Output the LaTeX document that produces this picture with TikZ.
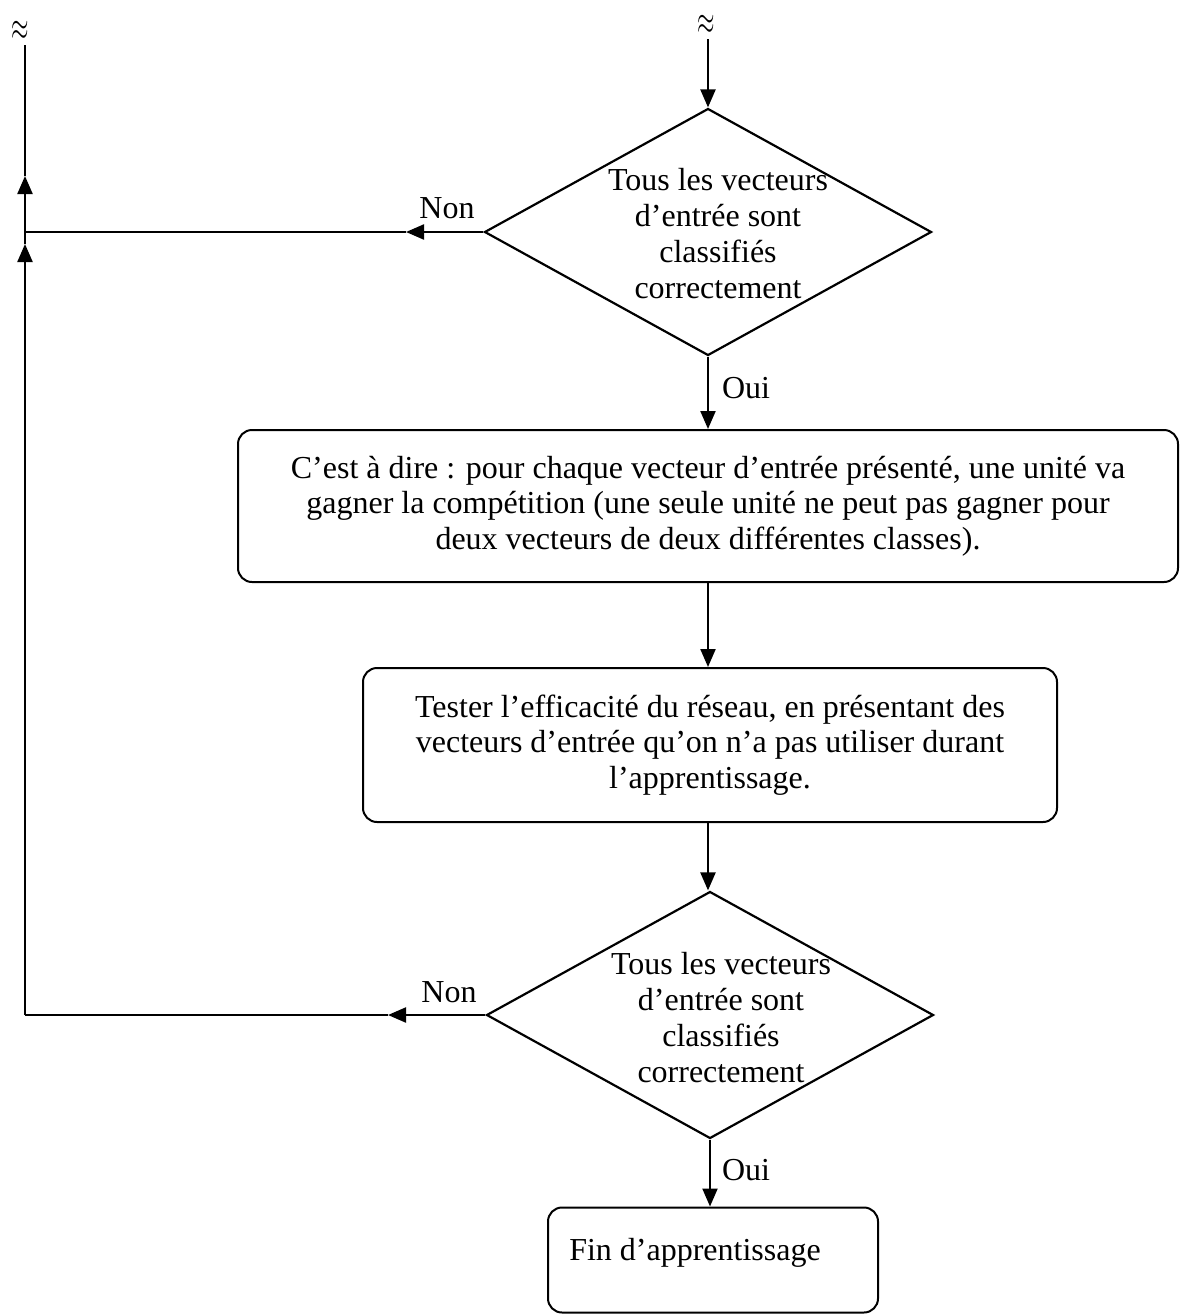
\documentclass[tikz,border=0pt]{standalone}
\usepackage{fontspec}
\setmainfont{Liberation Serif}
\usetikzlibrary{arrows.meta,shapes.geometric}
\begin{document}
\begin{tikzpicture}[x=1pt,y=-1pt,
  line width=2.2pt,
  tip/.style={-{Triangle[length=18pt,width=15pt]}},
  decision/.style={draw,diamond,minimum width=447pt,minimum height=247pt,inner sep=0pt,line width=2.2pt},
  procbox/.style={draw,rounded corners=14pt,line width=2pt,inner sep=0pt,align=center,font=\fontsize{32}{35.5}\selectfont},
  txt/.style={font=\fontsize{32}{36}\selectfont,align=center,inner sep=0pt},
  brk/.style={inner sep=0pt,font=\fontsize{26}{26}\selectfont},
]
\useasboundingbox (0,0) rectangle (1186,1315);

% break marks
\node[brk] (brk1) at (20,31) {\scalebox{0.9}[1.6]{$\approx$}};
\node[brk] (brk2) at (706,25) {\scalebox{0.9}[1.6]{$\approx$}};
\coordinate (top1) at (25,45);
\coordinate (top2) at (708,39);

% decisions
\node[decision] (d1) at (708,232) {};
\node[txt] (t1) at (718,234) {Tous les vecteurs\\d’entrée sont\\classifiés\\correctement};
\node[decision] (d2) at (710,1015) {};
\node[txt] (t2) at (721,1018) {Tous les vecteurs\\d’entrée sont\\classifiés\\correctement};

% boxes
\node[procbox,minimum width=940pt,minimum height=152pt] (b1) at (708,506)
  {C’est à dire : pour chaque vecteur d’entrée présenté, une unité va\\gagner la compétition (une seule unité ne peut pas gagner pour\\deux vecteurs de deux différentes classes).};
\node[procbox,minimum width=694pt,minimum height=154pt] (b2) at (710,745)
  {Tester l’efficacité du réseau, en présentant des\\vecteurs d’entrée qu’on n’a pas utiliser durant\\l’apprentissage.};
\node[procbox,minimum width=330pt,minimum height=105pt] (b3) at (713,1260) {};
\node[txt] (t3) at (695,1253) {Fin d’apprentissage};

% labels
\node[txt] (non1) at (447,208) {Non};
\node[txt] (non2) at (449,992) {Non};
\node[txt] (oui1) at (746,388) {Oui};
\node[txt] (oui2) at (746,1170) {Oui};

% connectors
\coordinate (n1tip) at (406,232);
\coordinate (j1) at (25,232);
\coordinate (n2tip) at (388,1015);
\coordinate (c2) at (25,1015);
\coordinate (up1) at (25,244);
\coordinate (up2) at (25,176);

\draw[tip] (top2) -- (d1.north);
\draw[tip] (d1.south) -- (d1.south |- b1.north);
\draw[tip] (d1.south |- b1.south) -- (d1.south |- b2.north);
\draw[tip] (d1.south |- b2.south) -- (d1.south |- d2.north);
\draw[tip] (d2.south) -- (d2.south |- b3.north);

\draw[tip] (d1.west) -- (n1tip);
\draw (n1tip) -- (j1);
\draw[tip] (d2.west) -- (n2tip);
\draw (n2tip) -- (c2);
\draw[tip] (c2) -- (up1);
\draw (up1) -- (j1);
\draw[tip] (j1) -- (up2);
\draw (up2) -- (top1);
\end{tikzpicture}
\end{document}
